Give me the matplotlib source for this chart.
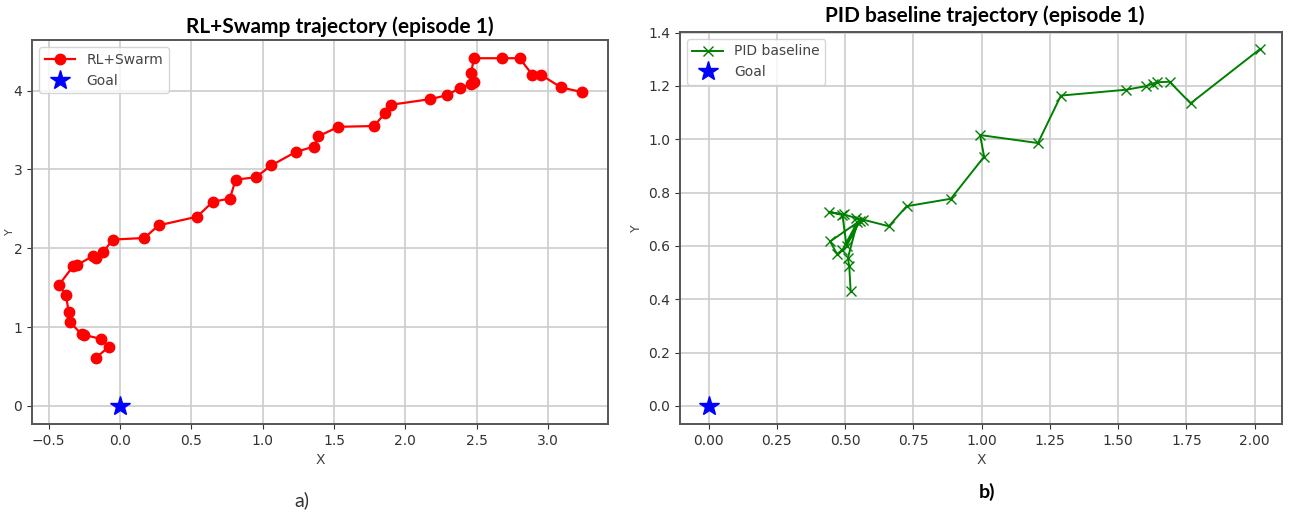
import matplotlib
matplotlib.use("Agg")
import matplotlib.pyplot as plt

# RL+Swarm trajectory (episode 1)
rl_x = [3.24, 3.09, 2.95, 2.89, 2.80, 2.68, 2.48, 2.46, 2.48, 2.46, 2.38, 2.29,
        2.17, 1.90, 1.86, 1.78, 1.53, 1.39, 1.36, 1.23, 1.06, 0.95, 0.81, 0.77,
        0.65, 0.54, 0.27, 0.17, -0.05, -0.12, -0.17, -0.19, -0.30, -0.33, -0.43,
        -0.38, -0.36, -0.35, -0.27, -0.25, -0.135, -0.078, -0.17]
rl_y = [3.98, 4.04, 4.20, 4.20, 4.41, 4.41, 4.41, 4.22, 4.11, 4.08, 4.03, 3.94,
        3.89, 3.82, 3.72, 3.55, 3.54, 3.42, 3.29, 3.22, 3.05, 2.90, 2.87, 2.63,
        2.59, 2.40, 2.29, 2.13, 2.11, 1.95, 1.88, 1.90, 1.79, 1.77, 1.53,
        1.41, 1.19, 1.06, 0.91, 0.90, 0.85, 0.75, 0.61]

# PID baseline trajectory (episode 1)
pid_x = [2.02, 1.765, 1.688, 1.642, 1.627, 1.60, 1.529, 1.29, 1.206, 0.994,
         1.009, 0.887, 0.725, 0.66, 0.564, 0.54, 0.495, 0.44, 0.49, 0.505,
         0.555, 0.445, 0.47, 0.49, 0.545, 0.51, 0.515, 0.52]
pid_y = [1.339, 1.135, 1.216, 1.214, 1.209, 1.199, 1.186, 1.164, 0.986, 1.016,
         0.935, 0.777, 0.749, 0.674, 0.699, 0.705, 0.718, 0.728, 0.716, 0.60,
         0.695, 0.617, 0.57, 0.585, 0.69, 0.555, 0.523, 0.43]

goal_x = [0.0]
goal_y = [0.0]

fig = plt.figure(figsize=(12.92, 5.14), dpi=100)
ax1 = fig.add_axes([0.0248, 0.175, 0.4458, 0.747])
ax2 = fig.add_axes([0.5263, 0.175, 0.466, 0.763])

title_font = dict(family="Lato", weight="bold", size=15)

# left: RL+Swarm
ax1.plot(rl_x, rl_y, "o-", color="red", markersize=7.5, linewidth=1.6, label="RL+Swarm")
ax1.plot(goal_x, goal_y, "*", color="blue", markersize=15, label="Goal")
ax1.set_xlim(-0.617, 3.42)
ax1.set_ylim(-0.23, 4.64)
ax1.set_xticks([-0.5, 0.0, 0.5, 1.0, 1.5, 2.0, 2.5, 3.0])
ax1.set_yticks([0, 1, 2, 3, 4])
ax1.set_xlabel("X", fontsize=10, color="#444444")
ax1.set_ylabel("Y", fontsize=8, color="#444444")
ax1.yaxis.set_label_coords(-0.03, 0.5)

# right: PID baseline
ax2.plot(pid_x, pid_y, "x-", color="green", markersize=6.5, linewidth=1.4, label="PID baseline")
ax2.plot(goal_x, goal_y, "*", color="blue", markersize=15, label="Goal")
ax2.set_xlim(-0.105, 2.10)
ax2.set_ylim(-0.068, 1.403)
ax2.set_xticks([0.0, 0.25, 0.5, 0.75, 1.0, 1.25, 1.5, 1.75, 2.0])
ax2.set_yticks([0.0, 0.2, 0.4, 0.6, 0.8, 1.0, 1.2, 1.4])
ax2.set_xlabel("X", fontsize=10, color="#444444")
ax2.set_ylabel("Y", fontsize=9, color="#444444")

for ax in (ax1, ax2):
    ax.grid(True, color="#cccccc", linewidth=1.2)
    ax.tick_params(labelsize=10, colors="#333333")
    for s in ax.spines.values():
        s.set_color("#555555")
        s.set_linewidth(1.4)
    leg = ax.legend(loc="upper left", fontsize=10, handlelength=2.2)
    for t in leg.get_texts():
        t.set_color("#444444")

fig.text(0.263, 0.948, "RL+Swamp trajectory (episode 1)", ha="center", va="center", **title_font)
fig.text(0.762, 0.969, "PID baseline trajectory (episode 1)", ha="center", va="center", **title_font)
fig.text(0.234, 0.027, "a)", ha="center", va="center", family="Lato", size=14, color="#333333")
fig.text(0.764, 0.043, "b)", ha="center", va="center", family="Lato", weight="bold", size=14)

fig.savefig("out.png", dpi=100)
